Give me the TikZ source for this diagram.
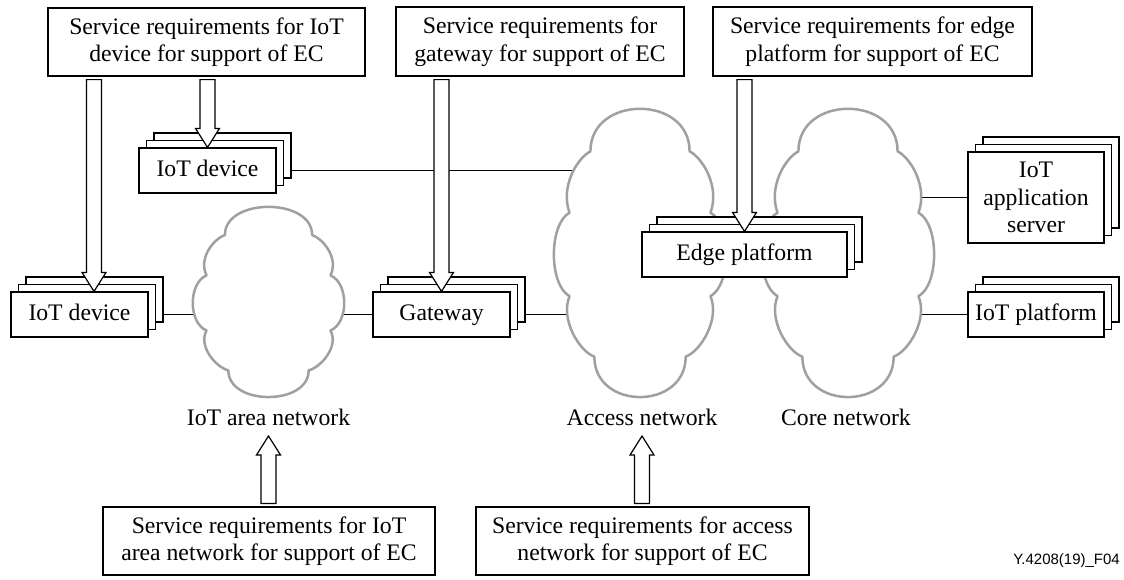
\documentclass[tikz,border=0pt]{standalone}
\usepackage{fontspec}
\setmainfont{Liberation Serif}
\newfontfamily\idfont{Liberation Sans}
\usetikzlibrary{shadows,calc,backgrounds}
\definecolor{cloudgray}{RGB}{160,160,160}
\tikzset{
  box/.style={draw, fill=white, line width=1.2pt, align=center, inner sep=0pt,
    font=\fontsize{23.7}{27.5}\selectfont},
  oneline/.style={text height=16.5pt, text depth=4.5pt},
  stackbox/.style={box,
    general shadow={shadow xshift=15pt, shadow yshift=15pt, fill=white, draw=black, line width=1.2pt},
    general shadow={shadow xshift=7.5pt, shadow yshift=7.5pt, fill=white, draw=black, line width=1.2pt}},
  lbl/.style={inner sep=0pt, font=\fontsize{23.7}{27.5}\selectfont},
  conn/.style={line width=1.2pt},
  cloudline/.style={draw=cloudgray, fill=white, line width=2.5pt, line join=round},
  blockarr/.style={draw, fill=white, line width=1.2pt, line join=miter}
}
\newcommand\arrowdown[2]{\draw[blockarr] let \p1=#1, \p2=#2 in
  (\x2-7.5pt,\y1) -- (\x2+7.5pt,\y1) -- (\x2+7.5pt,\y2+19pt) -- (\x2+12pt,\y2+19pt)
  -- (\x2,\y2) -- (\x2-12pt,\y2+19pt) -- (\x2-7.5pt,\y2+19pt) -- cycle;}
\newcommand\arrowup[2]{\draw[blockarr] let \p1=#1, \p2=#2 in
  (\x2-7.5pt,\y1) -- (\x2+7.5pt,\y1) -- (\x2+7.5pt,\y2-19pt) -- (\x2+12pt,\y2-19pt)
  -- (\x2,\y2) -- (\x2-12pt,\y2-19pt) -- (\x2-7.5pt,\y2-19pt) -- cycle;}
% cloud: #1 centre x, #2 top y, #3 half width, #4 height
\newcommand\cloudat[4]{\draw[cloudline, shift={(#1,#2)}, xscale=#3, yscale=#4]
  (-0.57,0.147) .. controls (-0.57,-0.05) and (0.57,-0.05) .. (0.57,0.147)
  .. controls (0.72,0.17) and (0.92,0.27) .. (0.81,0.36)
  .. controls (1.05,0.40) and (1.05,0.61) .. (0.81,0.65)
  .. controls (0.92,0.73) and (0.70,0.84) .. (0.525,0.86)
  .. controls (0.525,1.047) and (-0.525,1.047) .. (-0.525,0.86)
  .. controls (-0.70,0.84) and (-0.92,0.73) .. (-0.81,0.65)
  .. controls (-1.05,0.61) and (-1.05,0.40) .. (-0.81,0.36)
  .. controls (-0.92,0.27) and (-0.72,0.17) .. (-0.57,0.147) -- cycle;}
\begin{document}
\begin{tikzpicture}[x=1pt, y=-1pt]
\useasboundingbox (0,0) rectangle (1124,579);

% clouds
\cloudat{268.5}{207}{76.5}{190}
\cloudat{640}{109}{87}{288}
\cloudat{848}{109}{87}{288}
\coordinate (areac) at (268.5,300);
\coordinate (accc) at (640,250);
\coordinate (corec) at (848,250);

% requirement boxes
\node[box, minimum width=317pt, minimum height=68pt] (reqA) at (206.5,42)
  {Service requirements for IoT\\device for support of EC};
\node[box, minimum width=288pt, minimum height=69pt] (reqB) at (540,41.5)
  {Service requirements for\\gateway for support of EC};
\node[box, minimum width=319pt, minimum height=69pt] (reqC) at (872.5,41.5)
  {Service requirements for edge\\platform for support of EC};
\node[box, minimum width=332pt, minimum height=68pt] (reqArea) at (269,541)
  {Service requirements for IoT\\area network for support of EC};
\node[box, minimum width=333pt, minimum height=68pt] (reqAcc) at (642.5,541)
  {Service requirements for access\\network for support of EC};

% stacked entities
\node[stackbox, oneline, minimum width=137pt, minimum height=45pt] (updev) at (207.5,170.5) {IoT device};
\node[stackbox, oneline, minimum width=137pt, minimum height=45pt] (lowdev) at (79.5,314.5) {IoT device};
\node[stackbox, oneline, minimum width=137pt, minimum height=45pt] (gw) at (441.5,314.5) {Gateway};
\node[stackbox, oneline, minimum width=205pt, minimum height=45pt] (edge) at (744.5,254.5) {Edge platform};
\node[stackbox, minimum width=136pt, minimum height=91pt] (appsrv) at (1036,197.5) {IoT\\application\\server};
\node[stackbox, oneline, minimum width=136pt, minimum height=45pt] (iotplat) at (1036,314.5) {IoT platform};

% labels
\node[lbl] (arealbl) at (268.5,417) {IoT area network};
\node[lbl] (acclbl) at (642,417) {Access network};
\node[lbl] (corelbl) at (846,417) {Core network};
\node[inner sep=0pt, anchor=east, font=\idfont\fontsize{15}{18}\selectfont] (figid) at (1120,561) {Y.4208(19)\_F04};

% connectors (behind)
\begin{scope}[on background layer]
\draw[conn] (lowdev.east) -- (lowdev.east -| areac);
\draw[conn] (gw.west -| areac) -- (gw.west);
\draw[conn] (updev.east) -- (updev.east -| accc);
\draw[conn] (gw.east) -- (gw.east -| accc);
\draw[conn] (corec |- appsrv.west) -- (appsrv.west);
\draw[conn] (corec |- iotplat.west) -- (iotplat.west);
\end{scope}

% block arrows
\coordinate (tipArea) at (268.5,436);
\coordinate (tipAcc) at (642,436);
\arrowdown{([yshift=-3pt]reqA.south)}{([xshift=14.5pt]lowdev.north)}
\arrowdown{([yshift=-3pt]reqA.south)}{(updev.north)}
\arrowdown{([yshift=-3pt]reqB.south)}{(gw.north)}
\arrowdown{([yshift=-3pt]reqC.south)}{(edge.north)}
\arrowup{([yshift=3pt]reqArea.north)}{(tipArea)}
\arrowup{([yshift=3pt]reqAcc.north)}{(tipAcc)}
\end{tikzpicture}
\end{document}
